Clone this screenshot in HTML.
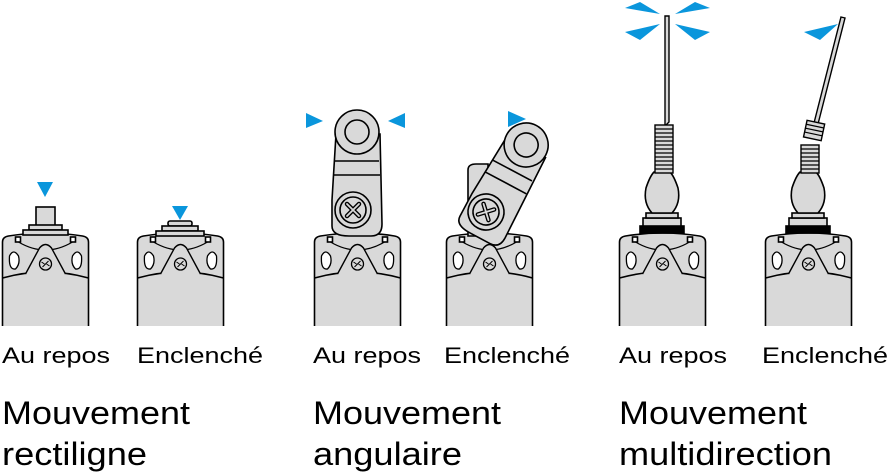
<!DOCTYPE html>
<html><head><meta charset="utf-8"><style>
html,body{margin:0;padding:0;background:#fff;}
svg{display:block}
text{font-family:"Liberation Sans",Arial,sans-serif;fill:#000}
</style></head><body>
<svg width="889" height="474" viewBox="0 0 889 474" xmlns="http://www.w3.org/2000/svg">
<defs>
<g id="body" stroke="#000" stroke-width="1.6" fill="#d9d9d9">
  <path d="M-43,90 L-43,6 Q-43,1 -37,0 Q0,-6 37,0 Q43,1 43,6 L43,90" />
  <path d="M-43,42 Q0,30 43,42" fill="none"/>
  <path d="M-27,6 Q0,22 27,6" fill="none" stroke-width="1.2"/>
  <rect x="-30" y="1" width="5" height="5" fill="#fff"/>
  <rect x="25" y="1" width="5" height="5" fill="#fff"/>
  <path d="M-20,38 L-6,12 Q0,5 6,12 L20,38" fill="#d9d9d9" stroke-width="1.4"/>
  <circle cx="0" cy="28" r="6" fill="#d9d9d9" stroke-width="1.3"/>
  <path d="M-3,31 L3,25 M-4,26 L-1,28 M1,28 L4,30" stroke-width="1"/>
  <path d="M-36,20 Q-32,12 -27,20 Q-25,28 -30,33 Q-37,34 -36,20Z" fill="#fff" stroke-width="1.3"/>
  <path d="M36,20 Q32,12 27,20 Q25,28 30,33 Q37,34 36,20Z" fill="#fff" stroke-width="1.3"/>
</g>
<g id="lever" stroke="#000" stroke-width="1.6" fill="#d9d9d9">
  <path d="M-21,-76 L-25,-10 L-25,16 Q-25,26 -8,26 L14,26 Q25,26 25,14 L23,-76Z"/>
  <line x1="-22" y1="-49" x2="22" y2="-49"/>
  <line x1="-23" y1="-35" x2="23" y2="-35"/>
  <circle cx="0" cy="-78" r="22"/>
  <circle cx="0" cy="-78" r="12"/>
  <circle cx="-4" cy="0" r="18"/>
  <circle cx="-4" cy="0" r="13"/>
  <path d="M-10,-6 L2,6 M2,-6 L-10,6" stroke-width="4.5" stroke-linecap="round"/>
  <path d="M-10,-6 L2,6 M2,-6 L-10,6" stroke="#d9d9d9" stroke-width="1.8" stroke-linecap="round"/>
</g>
<g id="wirebase" stroke="#000" stroke-width="1.6" fill="#d9d9d9">
  <rect x="-22" y="-10" width="44" height="7" fill="#000"/>
  <rect x="-19" y="-18" width="38" height="8"/>
  <rect x="-16" y="-23" width="32" height="5"/>
  <path d="M-10,-23 Q-19,-33 -16,-48 Q-12,-60 -8,-64 L8,-64 Q12,-60 16,-48 Q19,-33 10,-23Z"/>
</g>
</defs>

<use href="#body" x="45.5" y="236"/>
<use href="#body" x="180.5" y="236"/>
<use href="#body" x="357.5" y="236"/>
<use href="#body" x="489.5" y="236"/>
<use href="#body" x="662.5" y="236"/>
<use href="#body" x="808.5" y="236"/>

<g stroke="#000" stroke-width="1.6" fill="#d9d9d9">
  <rect x="36" y="207" width="19" height="19"/>
  <rect x="29" y="225" width="33" height="5"/>
  <rect x="23" y="230" width="45" height="5"/>
  <rect x="168" y="221" width="24" height="5" rx="2"/>
  <rect x="162" y="226" width="36" height="5"/>
  <rect x="156" y="231" width="48" height="5"/>
</g>
<polygon points="37,182 53,182 45,197" fill="#0a96dc"/>
<polygon points="172,206 188,206 180,220" fill="#0a96dc"/>

<use href="#lever" x="357" y="210"/>
<g transform="translate(490,212)">
  <path d="M-22,24 L-22,-42 Q-22,-48 -14,-48 L-2,-48 L-2,24Z" fill="#d9d9d9" stroke="#000" stroke-width="1.6"/>
  <g transform="rotate(28 -4 0)"><use href="#lever" x="0" y="0"/></g>
</g>
<polygon points="306,113 323,121 306,128" fill="#0a96dc"/>
<polygon points="405,113 388,121 405,128" fill="#0a96dc"/>
<polygon points="508,111 526,119 508,127" fill="#0a96dc"/>

<use href="#wirebase" x="662" y="236"/>
<use href="#wirebase" x="808" y="236"/>
<g stroke="#000" stroke-width="1.4" fill="#d9d9d9">
  <path d="M665,16 L669,16 L669,122 L665,126Z"/>
  <rect x="655" y="125" width="18" height="48"/>
  <path d="M655,129 H673 M655,133 H673 M655,137 H673 M655,141 H673 M655,145 H673 M655,149 H673 M655,153 H673 M655,157 H673 M655,161 H673 M655,165 H673 M655,169 H673" stroke-width="1.2"/>
  <path d="M841,17 L845,18 L818,124 L814,123Z"/>
  <rect x="801" y="145" width="18" height="28"/>
  <path d="M801,149 H819 M801,153 H819 M801,157 H819 M801,161 H819 M801,165 H819 M801,169 H819" stroke-width="1.2"/>
  <g transform="rotate(12 814 131)">
    <rect x="805" y="122" width="18" height="17"/>
    <path d="M805,126 H823 M805,130 H823 M805,134 H823" stroke-width="1.2"/>
  </g>
</g>
<g fill="#0a96dc">
  <polygon points="625,8 640,2 660,14"/>
  <polygon points="625,32 660,24 640,40"/>
  <polygon points="710,8 695,2 675,14"/>
  <polygon points="710,32 675,24 695,40"/>
  <polygon points="804,32 838,24 820,40"/>
</g>

<g font-size="22">
  <text x="2" y="363" textLength="108" lengthAdjust="spacingAndGlyphs">Au repos</text>
  <text x="137" y="363" textLength="126" lengthAdjust="spacingAndGlyphs">Enclenché</text>
  <text x="313" y="363" textLength="108" lengthAdjust="spacingAndGlyphs">Au repos</text>
  <text x="444" y="363" textLength="126" lengthAdjust="spacingAndGlyphs">Enclenché</text>
  <text x="619" y="363" textLength="108" lengthAdjust="spacingAndGlyphs">Au repos</text>
  <text x="762" y="363" textLength="126" lengthAdjust="spacingAndGlyphs">Enclenché</text>
</g>
<g font-size="32">
  <text x="2" y="424" textLength="188" lengthAdjust="spacingAndGlyphs">Mouvement</text>
  <text x="2" y="465" textLength="145" lengthAdjust="spacingAndGlyphs">rectiligne</text>
  <text x="313" y="424" textLength="188" lengthAdjust="spacingAndGlyphs">Mouvement</text>
  <text x="313" y="465" textLength="149" lengthAdjust="spacingAndGlyphs">angulaire</text>
  <text x="619" y="424" textLength="188" lengthAdjust="spacingAndGlyphs">Mouvement</text>
  <text x="619" y="465" textLength="213" lengthAdjust="spacingAndGlyphs">multidirection</text>
</g>
</svg>
</body></html>
